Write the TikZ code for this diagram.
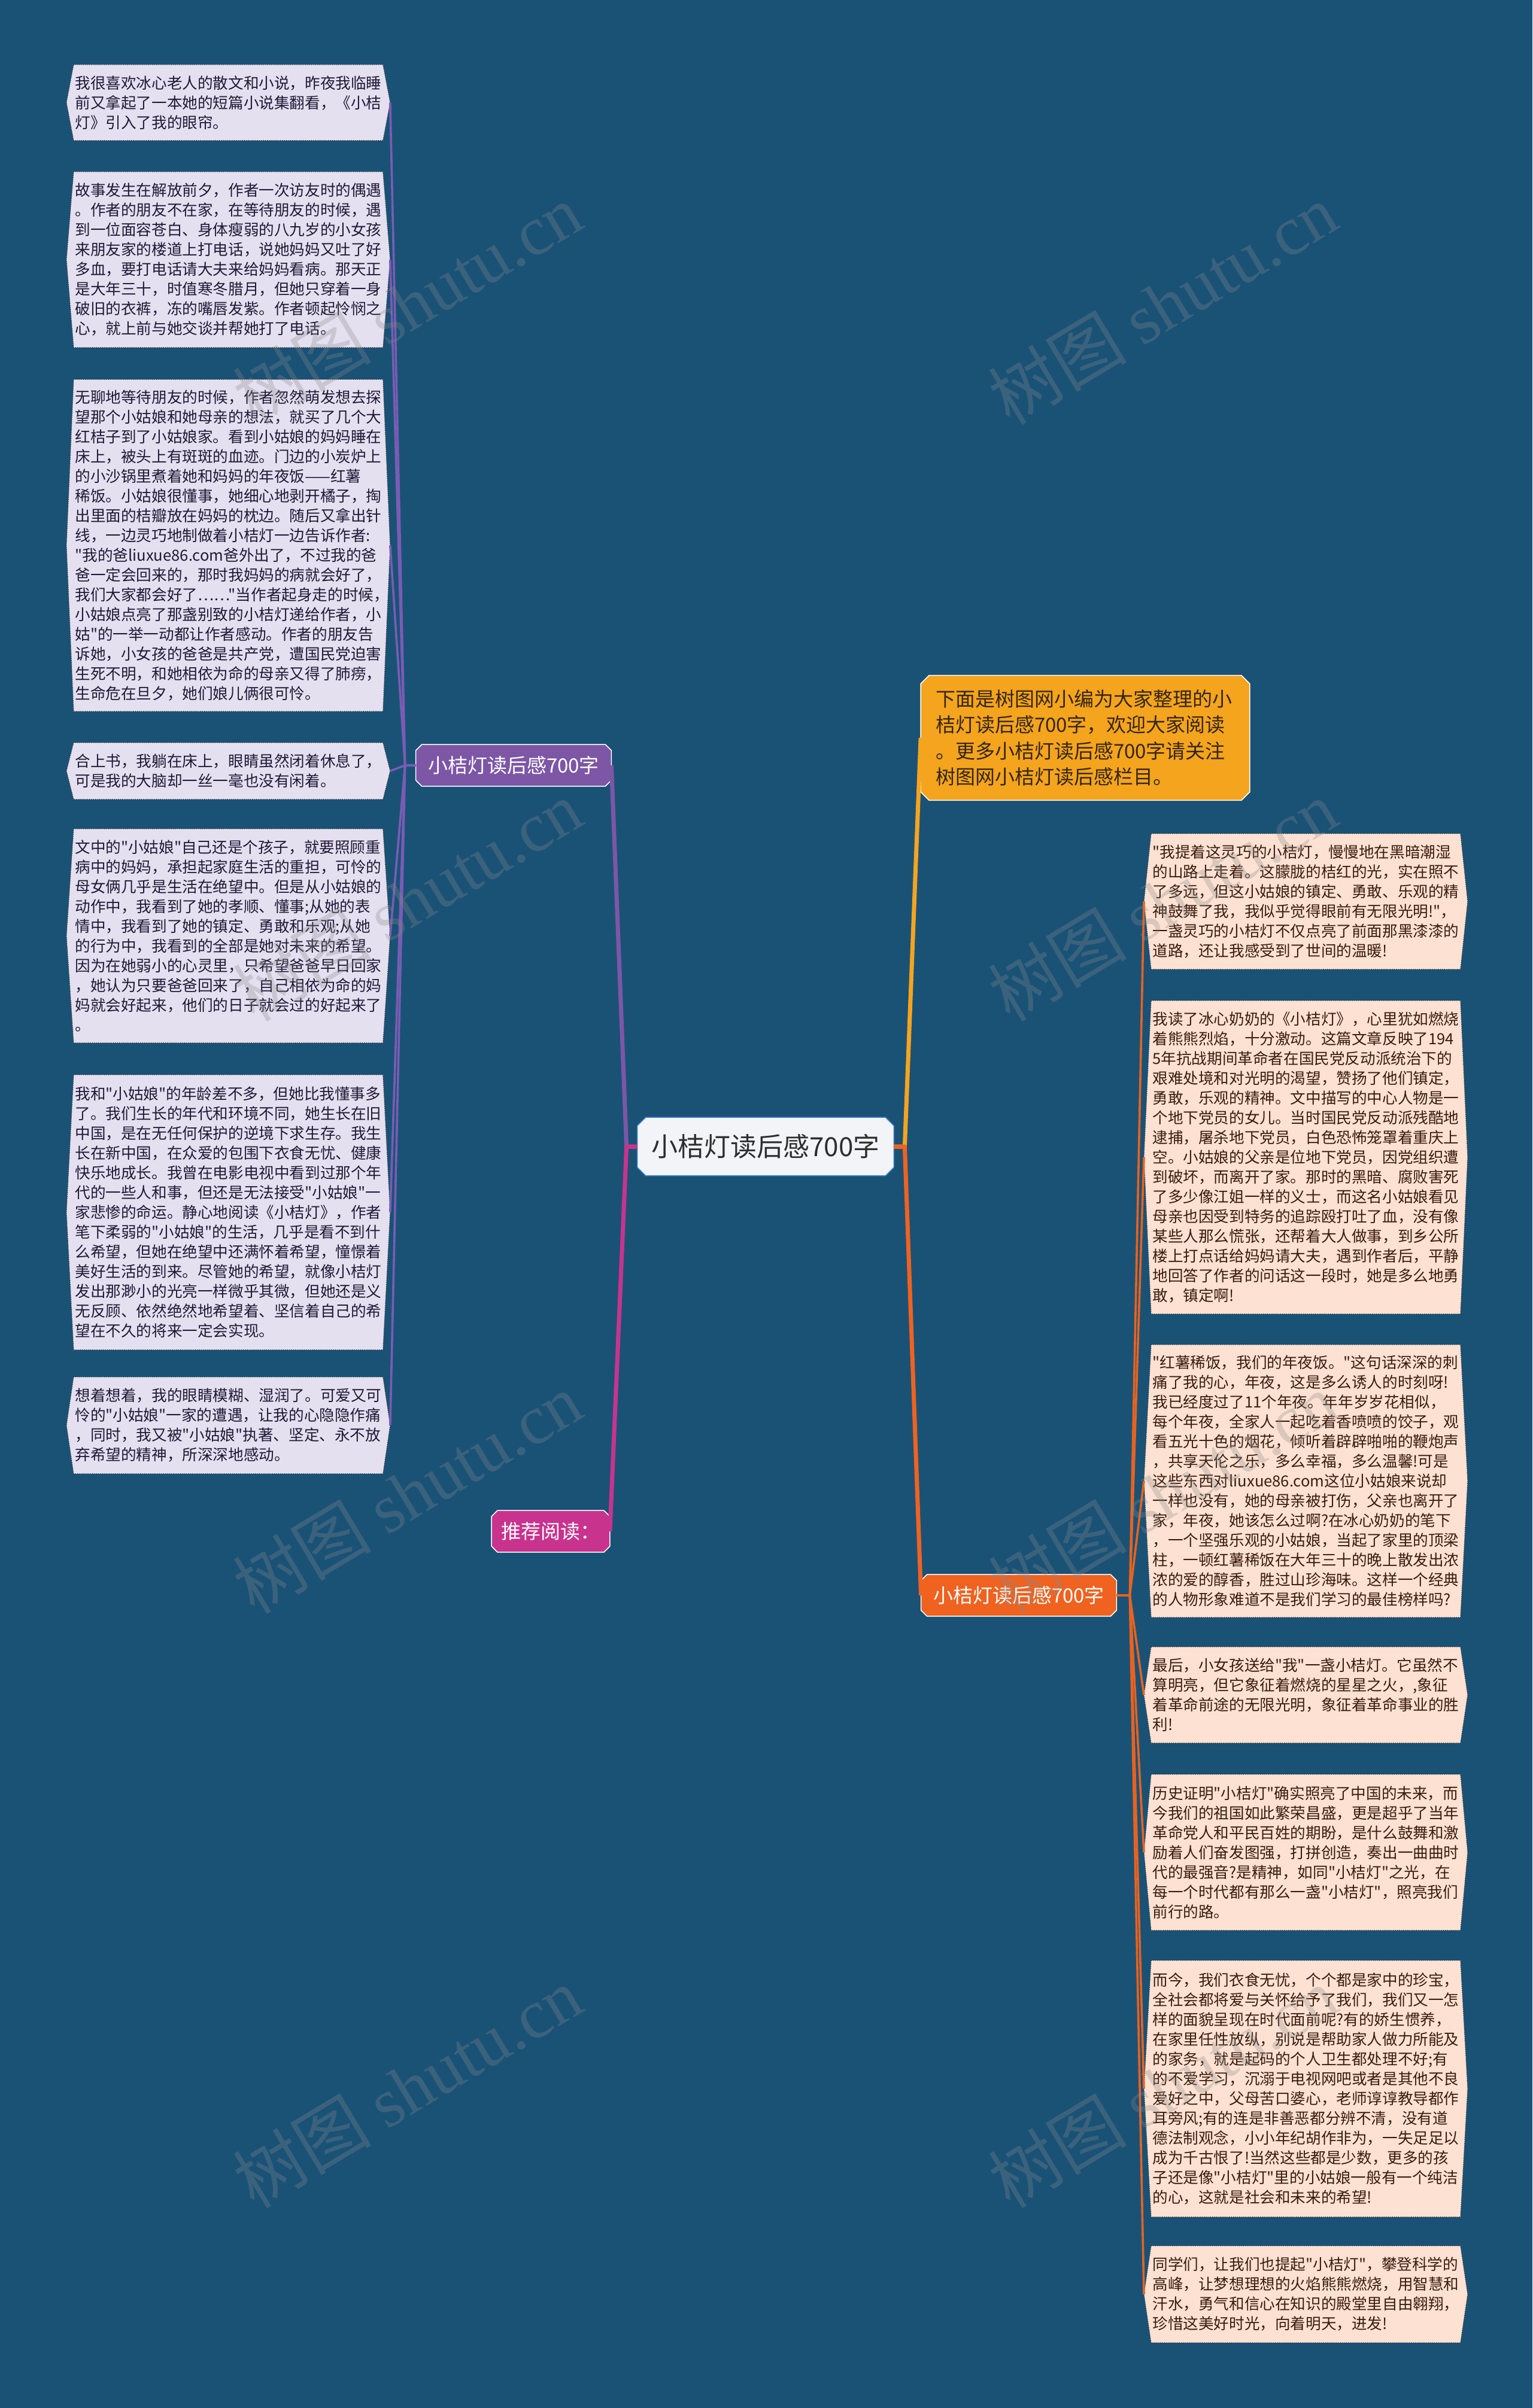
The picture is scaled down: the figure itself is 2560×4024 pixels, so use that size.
\documentclass[tikz,border=0pt]{standalone}
\usepackage{fontspec}
\newfontfamily\cjk{Noto Sans CJK SC}
\newfontfamily\wmfont{Liberation Serif}
\usepackage{tikz}
\usetikzlibrary{backgrounds}

\definecolor{bgblue}{HTML}{1A5276}
\definecolor{lavfill}{HTML}{E5E0F0}
\definecolor{peachfill}{HTML}{FDE2D3}
\definecolor{leafedge}{HTML}{2B2B2B}
\definecolor{inkL}{HTML}{1E1A36}
\definecolor{inkR}{HTML}{3A1B0D}
\definecolor{ink}{HTML}{2E2E2E}
\definecolor{otink}{HTML}{33260F}
\definecolor{ctrfill}{HTML}{F2F4F7}
\definecolor{ctredge}{HTML}{3D7DC4}
\definecolor{lbfill}{HTML}{7D56A6}
\definecolor{lbline}{HTML}{7A5CB4}
\definecolor{prfill}{HTML}{C8338E}
\definecolor{otfill}{HTML}{F5A41E}
\definecolor{rbfill}{HTML}{EF6220}
\definecolor{rbline}{HTML}{E8621F}
\definecolor{wmgray}{HTML}{8A8A8A}

\newcommand\leaffont{\cjk\fontsize{12.8pt}{16.5pt}\selectfont}

\tikzset{
  leafL/.style={anchor=north west, text width=256pt, inner xsep=7pt, inner ysep=0pt,
                align=left, text=inkL, font=\leaffont},
  leafR/.style={leafL, text=inkR},
  brnode/.style={minimum height=34.5pt, inner sep=0pt, text=white,
                 font=\cjk\fontsize{16.5pt}{20pt}\selectfont},
  branchline/.style={line width=3.5pt, line join=round},
  leafline/.style={line width=1.8pt, line join=round},
  watermark/.style={rotate=31, text=wmgray, opacity=0.3,
                    font=\cjk\fontsize{58pt}{60pt}\selectfont}
}

\begin{document}
\begin{tikzpicture}[x=0.5pt, y=-0.5pt]
  \useasboundingbox (0,0) rectangle (2560,4024);
  \begin{scope}[on background layer]
    \fill[bgblue] (0,0) rectangle (2560,4024);
  \end{scope}

  % centre and branches
  \node[minimum width=214pt, minimum height=48.5pt, inner sep=0pt, text=ink,
        font=\cjk\fontsize{22pt}{26pt}\selectfont] (ctr) at (1279,1916) {小桔灯读后感700字};
  \node[brnode, minimum width=163pt] (lb) at (858,1279) {小桔灯读后感700字};
  \node[brnode, minimum width=98.5pt] (pr) at (920,2559) {推荐阅读：};
  \node[brnode, minimum width=163pt] (rb) at (1702,2666) {小桔灯读后感700字};
  \node[minimum width=274.5pt, minimum height=104pt, text width=250pt, inner xsep=12.25pt,
        inner ysep=0pt, align=left, text=otink,
        font=\cjk\fontsize{16.5pt}{21.8pt}\selectfont] (ot) at (1813,1233)
    {下面是树图网小编为大家整理的小\\
     桔灯读后感700字，欢迎大家阅读\\
     。更多小桔灯读后感700字请关注\\
     树图网小桔灯读后感栏目。};

  % left leaves
  \node[leafL, minimum height=63pt] (l1) at (111,108)
    {我很喜欢冰心老人的散文和小说，昨夜我临睡\\
     前又拿起了一本她的短篇小说集翻看，《小桔\\
     灯》引入了我的眼帘。};
  \node[leafL, minimum height=146.5pt] (l2) at (111,287)
    {故事发生在解放前夕，作者一次访友时的偶遇\\
     。作者的朋友不在家，在等待朋友的时候，遇\\
     到一位面容苍白、身体瘦弱的八九岁的小女孩\\
     来朋友家的楼道上打电话，说她妈妈又吐了好\\
     多血，要打电话请大夫来给妈妈看病。那天正\\
     是大年三十，时值寒冬腊月，但她只穿着一身\\
     破旧的衣裤，冻的嘴唇发紫。作者顿起怜悯之\\
     心，就上前与她交谈并帮她打了电话。};
  \node[leafL, minimum height=277pt] (l3) at (111,634)
    {无聊地等待朋友的时候，作者忽然萌发想去探\\
     望那个小姑娘和她母亲的想法，就买了几个大\\
     红桔子到了小姑娘家。看到小姑娘的妈妈睡在\\
     床上，被头上有斑斑的血迹。门边的小炭炉上\\
     的小沙锅里煮着她和妈妈的年夜饭——红薯\\
     稀饭。小姑娘很懂事，她细心地剥开橘子，掏\\
     出里面的桔瓣放在妈妈的枕边。随后又拿出针\\
     线，一边灵巧地制做着小桔灯一边告诉作者:\\
     "我的爸liuxue86.com爸外出了，不过我的爸\\
     爸一定会回来的，那时我妈妈的病就会好了，\\
     我们大家都会好了……"当作者起身走的时候，\\
     小姑娘点亮了那盏别致的小桔灯递给作者，小\\
     姑"的一举一动都让作者感动。作者的朋友告\\
     诉她，小女孩的爸爸是共产党，遭国民党迫害\\
     生死不明，和她相依为命的母亲又得了肺痨，\\
     生命危在旦夕，她们娘儿俩很可怜。};
  \node[leafL, minimum height=47pt] (l4) at (111,1241)
    {合上书，我躺在床上，眼睛虽然闭着休息了，\\
     可是我的大脑却一丝一毫也没有闲着。};
  \node[leafL, minimum height=178.5pt] (l5) at (111,1385)
    {文中的"小姑娘"自己还是个孩子，就要照顾重\\
     病中的妈妈，承担起家庭生活的重担，可怜的\\
     母女俩几乎是生活在绝望中。但是从小姑娘的\\
     动作中，我看到了她的孝顺、懂事;从她的表\\
     情中，我看到了她的镇定、勇敢和乐观;从她\\
     的行为中，我看到的全部是她对未来的希望。\\
     因为在她弱小的心灵里，只希望爸爸早日回家\\
     ，她认为只要爸爸回来了，自己相依为命的妈\\
     妈就会好起来，他们的日子就会过的好起来了\\
     。};
  \node[leafL, minimum height=229.5pt] (l6) at (111,1796)
    {我和"小姑娘"的年龄差不多，但她比我懂事多\\
     了。我们生长的年代和环境不同，她生长在旧\\
     中国，是在无任何保护的逆境下求生存。我生\\
     长在新中国，在众爱的包围下衣食无忧、健康\\
     快乐地成长。我曾在电影电视中看到过那个年\\
     代的一些人和事，但还是无法接受"小姑娘"一\\
     家悲惨的命运。静心地阅读《小桔灯》，作者\\
     笔下柔弱的"小姑娘"的生活，几乎是看不到什\\
     么希望，但她在绝望中还满怀着希望，憧憬着\\
     美好生活的到来。尽管她的希望，就像小桔灯\\
     发出那渺小的光亮一样微乎其微，但她还是义\\
     无反顾、依然绝然地希望着、坚信着自己的希\\
     望在不久的将来一定会实现。};
  \node[leafL, minimum height=80.5pt] (l7) at (111,2301)
    {想着想着，我的眼睛模糊、湿润了。可爱又可\\
     怜的"小姑娘"一家的遭遇，让我的心隐隐作痛\\
     ，同时，我又被"小姑娘"执著、坚定、永不放\\
     弃希望的精神，所深深地感动。};

  % right leaves
  \node[leafR, minimum height=113pt] (r1) at (1911,1393)
    {"我提着这灵巧的小桔灯，慢慢地在黑暗潮湿\\
     的山路上走着。这朦胧的桔红的光，实在照不\\
     了多远，但这小姑娘的镇定、勇敢、乐观的精\\
     神鼓舞了我，我似乎觉得眼前有无限光明!"，\\
     一盏灵巧的小桔灯不仅点亮了前面那黑漆漆的\\
     道路，还让我感受到了世间的温暖!};
  \node[leafR, minimum height=261.5pt] (r2) at (1911,1672)
    {我读了冰心奶奶的《小桔灯》，心里犹如燃烧\\
     着熊熊烈焰，十分激动。这篇文章反映了194\\
     5年抗战期间革命者在国民党反动派统治下的\\
     艰难处境和对光明的渴望，赞扬了他们镇定，\\
     勇敢，乐观的精神。文中描写的中心人物是一\\
     个地下党员的女儿。当时国民党反动派残酷地\\
     逮捕，屠杀地下党员，白色恐怖笼罩着重庆上\\
     空。小姑娘的父亲是位地下党员，因党组织遭\\
     到破坏，而离开了家。那时的黑暗、腐败害死\\
     了多少像江姐一样的义士，而这名小姑娘看见\\
     母亲也因受到特务的追踪殴打吐了血，没有像\\
     某些人那么慌张，还帮着大人做事，到乡公所\\
     楼上打点话给妈妈请大夫，遇到作者后，平静\\
     地回答了作者的问话这一段时，她是多么地勇\\
     敢，镇定啊!};
  \node[leafR, minimum height=227.5pt] (r3) at (1911,2247)
    {"红薯稀饭，我们的年夜饭。"这句话深深的刺\\
     痛了我的心，年夜，这是多么诱人的时刻呀!\\
     我已经度过了11个年夜。年年岁岁花相似，\\
     每个年夜，全家人一起吃着香喷喷的饺子，观\\
     看五光十色的烟花，倾听着辟辟啪啪的鞭炮声\\
     ，共享天伦之乐，多么幸福，多么温馨!可是\\
     这些东西对liuxue86.com这位小姑娘来说却\\
     一样也没有，她的母亲被打伤，父亲也离开了\\
     家，年夜，她该怎么过啊?在冰心奶奶的笔下\\
     ，一个坚强乐观的小姑娘，当起了家里的顶梁\\
     柱，一顿红薯稀饭在大年三十的晚上散发出浓\\
     浓的爱的醇香，胜过山珍海味。这样一个经典\\
     的人物形象难道不是我们学习的最佳榜样吗?};
  \node[leafR, minimum height=80pt] (r4) at (1911,2752)
    {最后，小女孩送给"我"一盏小桔灯。它虽然不\\
     算明亮，但它象征着燃烧的星星之火，,象征\\
     着革命前途的无限光明，象征着革命事业的胜\\
     利!};
  \node[leafR, minimum height=130pt] (r5) at (1911,2965)
    {历史证明"小桔灯"确实照亮了中国的未来，而\\
     今我们的祖国如此繁荣昌盛，更是超乎了当年\\
     革命党人和平民百姓的期盼，是什么鼓舞和激\\
     励着人们奋发图强，打拼创造，奏出一曲曲时\\
     代的最强音?是精神，如同"小桔灯"之光，在\\
     每一个时代都有那么一盏"小桔灯"，照亮我们\\
     前行的路。};
  \node[leafR, minimum height=214pt] (r6) at (1911,3276)
    {而今，我们衣食无忧，个个都是家中的珍宝，\\
     全社会都将爱与关怀给予了我们，我们又一怎\\
     样的面貌呈现在时代面前呢?有的娇生惯养，\\
     在家里任性放纵，别说是帮助家人做力所能及\\
     的家务，就是起码的个人卫生都处理不好;有\\
     的不爱学习，沉溺于电视网吧或者是其他不良\\
     爱好之中，父母苦口婆心，老师谆谆教导都作\\
     耳旁风;有的连是非善恶都分辨不清，没有道\\
     德法制观念，小小年纪胡作非为，一失足足以\\
     成为千古恨了!当然这些都是少数，更多的孩\\
     子还是像"小桔灯"里的小姑娘一般有一个纯洁\\
     的心，这就是社会和未来的希望!};
  \node[leafR, minimum height=80.5pt] (r7) at (1911,3753)
    {同学们，让我们也提起"小桔灯"，攀登科学的\\
     高峰，让梦想理想的火焰熊熊燃烧，用智慧和\\
     汗水，勇气和信心在知识的殿堂里自由翱翔，\\
     珍惜这美好时光，向着明天，进发!};

  % box outlines behind the texts
  \begin{scope}[on background layer]
    \foreach \n/\f/\d/\c in {ctr/ctrfill/ctredge/7pt, lb/lbfill/white/5pt,
                             pr/prfill/white/5pt, rb/rbfill/white/5pt, ot/otfill/white/7pt}
      \filldraw[fill=\f, draw=\d, line width=0.8pt]
        ([xshift=\c]\n.north west) -- ([xshift=-\c]\n.north east)
        -- ([yshift=-\c]\n.north east) -- ([yshift=\c]\n.south east)
        -- ([xshift=-\c]\n.south east) -- ([xshift=\c]\n.south west)
        -- ([yshift=\c]\n.south west) -- ([yshift=-\c]\n.north west) -- cycle;
    \foreach \n/\f in {l1/lavfill, l2/lavfill, l3/lavfill, l4/lavfill, l5/lavfill,
                       l6/lavfill, l7/lavfill, r1/peachfill, r2/peachfill, r3/peachfill,
                       r4/peachfill, r5/peachfill, r6/peachfill, r7/peachfill}
      \filldraw[fill=\f, draw=leafedge, densely dotted, line width=0.6pt]
        ([xshift=6pt]\n.north west) -- ([xshift=-6pt]\n.north east) -- (\n.east)
        -- ([xshift=-6pt]\n.south east) -- ([xshift=6pt]\n.south west) -- (\n.west) -- cycle;
  \end{scope}

  % connectors
  \draw[branchline, draw=lbfill] (ctr.west) -- ++(-18,0) -- (lb.east);
  \draw[branchline, draw=prfill] (ctr.west) -- ++(-18,0) -- (pr.east);
  \draw[branchline, draw=otfill] (ctr.east) -- ++(18,0) -- (ot.west);
  \draw[branchline, draw=rbfill] (ctr.east) -- ++(18,0) -- (rb.west);
  \foreach \i in {1,...,7}
    \draw[leafline, draw=lbline] (lb.west) -- ++(-18,0) -- (l\i.east);
  \foreach \i in {1,...,7}
    \draw[leafline, draw=rbline] (rb.east) -- ++(22,0) -- (r\i.west);

  % watermarks
  \node[watermark] (wm1) at (680,508) {树图 {\wmfont shutu.cn}};
  \node[watermark] (wm2) at (1942,508) {树图 {\wmfont shutu.cn}};
  \node[watermark] (wm3) at (680,1505) {树图 {\wmfont shutu.cn}};
  \node[watermark] (wm4) at (1942,1505) {树图 {\wmfont shutu.cn}};
  \node[watermark] (wm5) at (680,2495) {树图 {\wmfont shutu.cn}};
  \node[watermark] (wm6) at (1942,2495) {树图 {\wmfont shutu.cn}};
  \node[watermark] (wm7) at (680,3488) {树图 {\wmfont shutu.cn}};
  \node[watermark] (wm8) at (1942,3488) {树图 {\wmfont shutu.cn}};
\end{tikzpicture}
\end{document}
